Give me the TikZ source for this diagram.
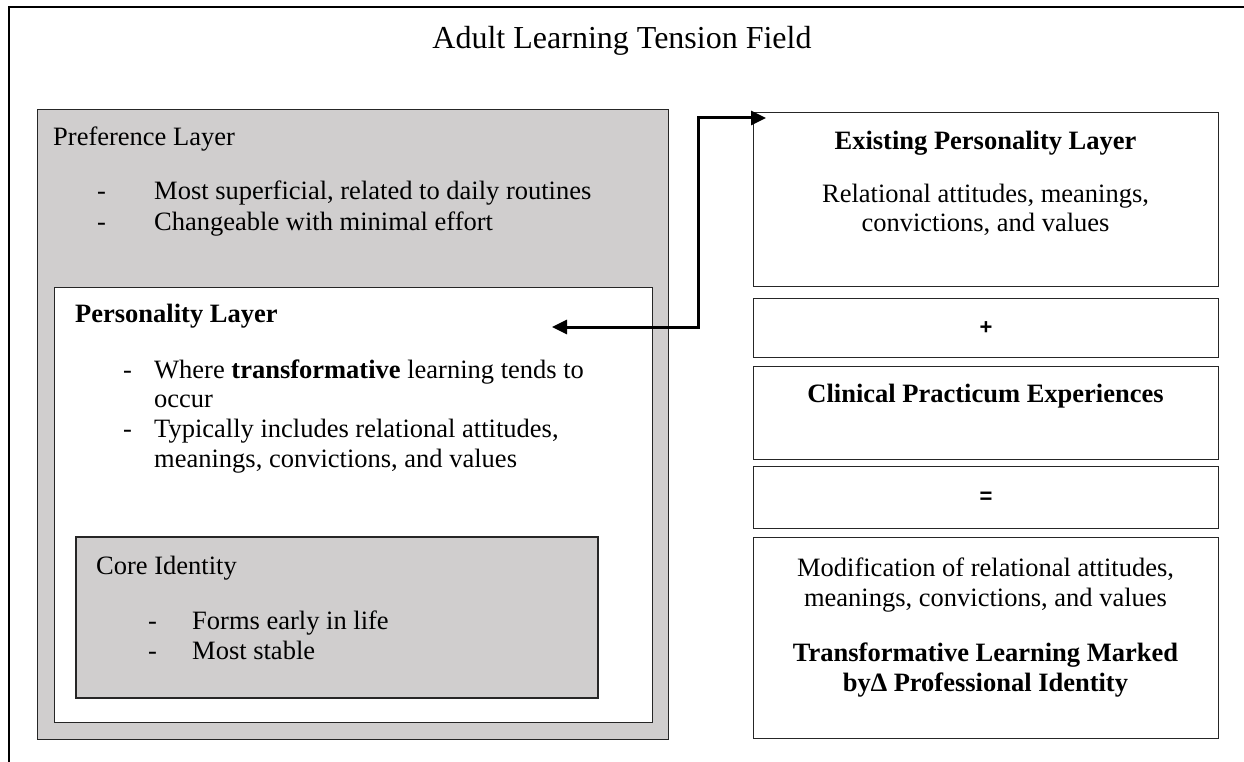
\documentclass[tikz,border=0pt]{standalone}
\usepackage{fontspec}
\setmainfont{Liberation Serif}
\newfontfamily\myarial{Liberation Sans}
\usetikzlibrary{arrows.meta}
\definecolor{layergray}{RGB}{208,206,206}
\newcommand\mybody{\fontsize{26.5}{30}\selectfont}
\newcommand\mytitle{\fontsize{32}{36}\selectfont}
\begin{document}
\begin{tikzpicture}[x=1pt,y=-1pt,
  box/.style={draw=black!85, line width=1.2pt, inner sep=0pt, anchor=north west},
  lt/.style={inner sep=0pt, anchor=base west, font=\mybody},
  ct/.style={inner sep=0pt, anchor=base, font=\mybody},
  arr/.style={line width=3pt, {Triangle[length=15pt,width=14pt]}-{Triangle[length=15pt,width=14pt]}}]
\useasboundingbox (0,0) rectangle (1244,762);
% outer frame (top and left lines)
\coordinate (fl) at (8.5,775);
\coordinate (fc) at (8.5,7);
\coordinate (fr) at (1260,7);
\draw[line width=2pt] (fl) -- (fc) -- (fr);
\node[ct, font=\mytitle] (title) at (622,49) {Adult Learning Tension Field};
% left nested layers
\node[box, fill=layergray, minimum width=631pt, minimum height=630pt] (pref) at (37,109) {};
\node[box, fill=white, minimum width=598pt, minimum height=435pt] (pers) at (54,287) {};
\node[box, fill=layergray, line width=1.6pt, minimum width=522pt, minimum height=161pt] (core) at (75,536) {};
% preference text
\node[lt] (preft) at (53,146) {Preference Layer};
\node[lt] (pd1) at (97,200) {-};
\node[lt] (p1) at (154,200) {Most superficial, related to daily routines};
\node[lt] (pd2) at (97,230) {-};
\node[lt] (p2) at (154,230) {Changeable with minimal effort};
% personality text
\node[lt] (perst) at (75,322) {\bfseries Personality Layer};
\node[lt] (qd1) at (123,378) {-};
\node[lt] (q1) at (154,378) {Where \textbf{transformative} learning tends to};
\node[lt] (q1b) at (154,407) {occur};
\node[lt] (qd2) at (123,437) {-};
\node[lt] (q2) at (154,437) {Typically includes relational attitudes,};
\node[lt] (q2b) at (154,467) {meanings, convictions, and values};
% core text
\node[lt] (coret) at (96,574) {Core Identity};
\node[lt] (cd1) at (148,629) {-};
\node[lt] (c1) at (192,629) {Forms early in life};
\node[lt] (cd2) at (148,659) {-};
\node[lt] (c2) at (192,659) {Most stable};
% right column
\node[box, minimum width=465pt, minimum height=174pt] (exist) at (753,112) {};
\node[box, minimum width=465pt, minimum height=59pt] (plus) at (753,298) {};
\node[box, minimum width=465pt, minimum height=93pt] (clin) at (753,366) {};
\node[box, minimum width=465pt, minimum height=62pt] (eq) at (753,466) {};
\node[box, minimum width=465pt, minimum height=201pt] (mod) at (753,537) {};
\node[ct] (e1) at (985.5,150) {\bfseries Existing Personality Layer};
\node[ct] (e2) at (985.5,202) {Relational attitudes, meanings,};
\node[ct] (e3) at (985.5,231) {convictions, and values};
\node[inner sep=0pt, font={\myarial\bfseries\fontsize{22}{26}\selectfont}] (plust) at (plus.center) {+};
\node[ct] (cl1) at (985.5,402) {\bfseries Clinical Practicum Experiences};
\node[inner sep=0pt, font={\myarial\bfseries\fontsize{22}{26}\selectfont}] (eqt) at (eq.center) {=};
\node[ct] (m1) at (985.5,576) {Modification of relational attitudes,};
\node[ct] (m2) at (985.5,606) {meanings, convictions, and values};
\node[ct] (m3) at (985.5,661) {\bfseries Transformative Learning Marked};
\node[ct] (m4) at (985.5,691) {\bfseries by∆ Professional Identity};
% double arrow
\coordinate (atip) at (552,327);
\coordinate (btip) at (766,118);
\draw[arr] (atip) -- (698,327) |- (btip);
\end{tikzpicture}
\end{document}
